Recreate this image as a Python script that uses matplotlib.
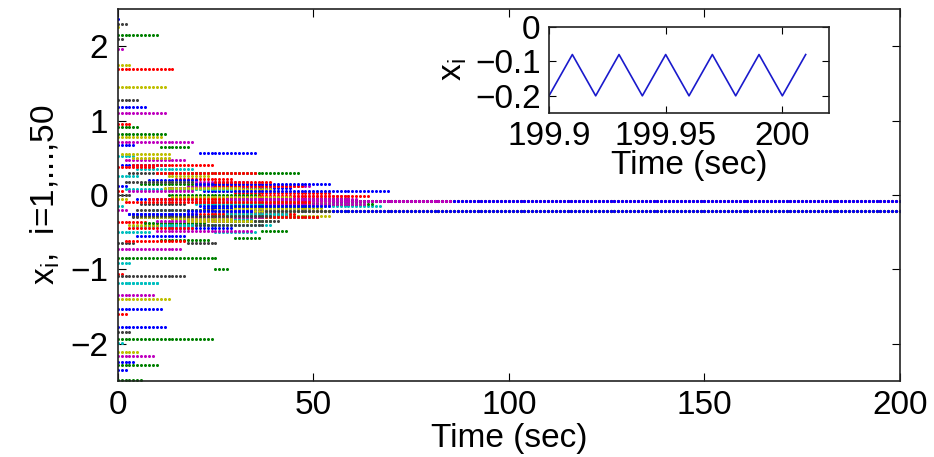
import numpy as np
import matplotlib
matplotlib.use("Agg")
import matplotlib.pyplot as plt

plt.rcParams['font.family'] = ['Liberation Sans', 'DejaVu Sans']

# each agent: x0 until t1, x1 until t2, x2 until t3, then x_final
x0 = [2.37, 2.15, 1.70, 0.53, 1.97, 2.26, 2.30,
      1.18, 0.91, 0.95, 0.25, 1.11, 1.45, 2.10,
      0.67, 0.82, 0.38, -0.15, 0.71, 1.75, 1.28,
      0.12, -0.85, 0.05, -0.50, -0.20, 0.78, 0.00,
      -1.53, -1.94, -0.36, -0.91, -0.73, -0.05, -0.65,
      -1.78, -2.29, -1.06, -1.18, -1.34, -1.40, -1.09,
      -2.25, -2.49, -1.60, -1.99, -2.17, -2.11, -1.84,
      -2.36]
t1 = [1, 11, 15, 5, 2, 1, 3,
      8, 6, 4, 6, 13, 13, 2,
      5, 13, 10, 2, 20, 4, 6,
      3, 26, 2, 9, 3, 12, 4,
      12, 25, 8, 4, 17, 3, 5,
      13, 11, 2, 11, 10, 14, 18,
      5, 7, 3, 2, 10, 6, 4,
      3]
x1 = [0.41, 0.65, 0.22, 0.35, 0.47, 0.55, 0.30,
      0.20, 0.15, 0.40, -0.30, 0.10, 0.25, 0.18,
      -0.05, 0.00, 0.30, 0.08, 0.18, 0.50, -0.12,
      -0.25, -0.35, -0.10, -0.20, 0.05, 0.10, -0.30,
      -0.40, -1.00, -0.05, -0.42, -0.30, -0.40, -0.20,
      -0.45, -0.60, -0.62, -0.40, -0.48, -0.32, -0.28,
      -0.55, -0.38, -0.45, -1.18, -0.35, -0.30, -0.28,
      -0.25]
t2 = [13, 19, 30, 20, 18, 14, 22,
      21, 30, 25, 25, 30, 24, 20,
      22, 37, 36, 30, 34, 14, 18,
      20, 40, 25, 30, 20, 32, 28,
      22, 29, 30, 15, 38, 22, 25,
      30, 24, 18, 28, 35, 30, 40,
      18, 23, 20, 11, 28, 18, 20,
      21]
x2 = [0.10, 0.29, 0.02, -0.12, 0.12, 0.08, -0.05,
      0.56, -0.58, 0.12, -0.50, -0.02, 0.05, -0.10,
      0.06, -0.48, -0.02, -0.15, -0.05, -0.03, -0.65,
      0.15, -0.12, 0.18, -0.28, -0.22, -0.28, -0.05,
      -0.18, -0.30, -0.30, -0.33, -0.12, -0.20, -0.35,
      -0.22, -0.25, -0.25, -0.25, -0.05, -0.18, -0.22,
      -0.21, -0.15, -0.10, -0.40, -0.05, -0.35, -0.40,
      -0.15]
t3 = [45, 47, 55, 62, 50, 40, 58,
      36, 37, 48, 36, 60, 42, 52,
      70, 44, 65, 68, 62, 45, 26,
      55, 66, 40, 50, 46, 55, 60,
      50, 52, 52, 35, 64, 48, 42,
      48, 45, 46, 44, 58, 53, 60,
      86, 50, 50, 40, 60, 35, 38,
      55]
x_final = [-0.08, -0.08, -0.21, -0.08, -0.21, -0.08, -0.21,
           -0.21, -0.21, -0.08, -0.21, -0.08, -0.21, -0.08,
           -0.08, -0.21, -0.08, -0.21, -0.08, -0.08, -0.21,
           -0.08, -0.21, -0.21, -0.21, -0.08, -0.21, -0.08,
           -0.21, -0.21, -0.21, -0.21, -0.08, -0.21, -0.21,
           -0.21, -0.21, -0.21, -0.21, -0.08, -0.21, -0.21,
           -0.08, -0.21, -0.21, -0.21, -0.21, -0.21, -0.21,
           -0.21]

# inset: one agent near t = 200 s
inset_t = [199.90, 199.91, 199.92, 199.93, 199.94, 199.95, 199.96,
           199.97, 199.98, 199.99, 200.00, 200.01]
inset_x = [-0.20, -0.08, -0.20, -0.08, -0.20, -0.08, -0.20,
           -0.08, -0.20, -0.08, -0.20, -0.08]

colors = ['#0000ff', '#008000', '#ff0000', '#00bfbf', '#bf00bf', '#bfbf00', '#404040']

t = np.arange(0, 201, 1.0)  # sampling instants

fig = plt.figure(figsize=(9.34, 4.57), dpi=100)
ax = fig.add_axes([0.126, 0.167, 0.8376, 0.8127])

for i in range(len(x0)):
    x = np.where(t < t1[i], x0[i],
        np.where(t < t2[i], x1[i],
        np.where(t < t3[i], x2[i], x_final[i])))
    ax.plot(t, x, 'o', color=colors[i % 7], markersize=2.2, markeredgewidth=0)

ax.set_xlim(0, 200)
ax.set_ylim(-2.5, 2.5)
ax.set_xticks([0, 50, 100, 150, 200])
ax.set_yticks([-2, -1, 0, 1, 2])
ax.tick_params(direction='in', top=True, right=True, length=6, labelsize=24, pad=7)
for s in ax.spines.values():
    s.set_linewidth(1.2)
    s.set_color('#222222')
ax.set_xlabel('Time (sec)', fontsize=24, labelpad=1)
ax.set_ylabel(r'x$_\mathregular{i}$,  i=1,...,50', fontsize=24, labelpad=6)

ins = fig.add_axes([0.5878, 0.7527, 0.2998, 0.1882])
ins.plot(inset_t, inset_x, color='#1a1acc', linewidth=1.2)
ins.set_xlim(199.9, 200.02)
ins.set_ylim(-0.25, 0)
ins.set_xticks([199.9, 199.95, 200])
ins.set_xticklabels(['199.9', '199.95', '200'])
ins.set_yticks([-0.2, -0.1, 0])
ins.set_yticklabels(['\u22120.2', '\u22120.1', '0'])
ins.tick_params(direction='in', top=True, right=True, length=5, labelsize=24, pad=6)
for s in ins.spines.values():
    s.set_linewidth(1.2)
    s.set_color('#222222')
ins.set_xlabel('Time (sec)', fontsize=24, labelpad=-2)
ins.set_ylabel(r'x$_\mathregular{i}$', fontsize=24, labelpad=4)

fig.savefig('out.png', dpi=100)
